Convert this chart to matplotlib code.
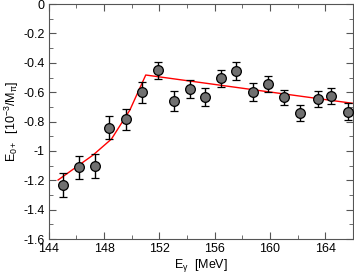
import matplotlib
matplotlib.use("Agg")
import matplotlib.pyplot as plt
from matplotlib.ticker import MultipleLocator

# data points
energy = [145.04, 146.17, 147.37, 148.34, 149.57, 150.77, 151.9, 153.06, 154.2,
          155.28, 156.49, 157.57, 158.8, 159.88, 160.99, 162.2, 163.5, 164.44, 165.62]
e0plus = [-1.232, -1.112, -1.103, -0.842, -0.785, -0.601, -0.449, -0.658, -0.581,
          -0.633, -0.506, -0.458, -0.599, -0.542, -0.635, -0.742, -0.645, -0.624, -0.733]
err = [0.08, 0.079, 0.08, 0.08, 0.07, 0.072, 0.058, 0.068, 0.061,
       0.059, 0.059, 0.061, 0.059, 0.054, 0.052, 0.052, 0.054, 0.054, 0.057]

# theory curve
curve_x = [144.67, 147.2, 148.53, 149.86, 151.01, 166.0]
curve_y = [-1.198, -1.028, -0.919, -0.722, -0.483, -0.676]

xticks = [144, 148, 152, 156, 160, 164]
yticks = [0, -0.2, -0.4, -0.6, -0.8, -1, -1.2, -1.4, -1.6]
ytick_labels = ["0", "-0.2", "-0.4", "-0.6", "-0.8", "-1", "-1.2", "-1.4", "-1.6"]

plt.rcParams['font.family'] = ['Liberation Sans', 'DejaVu Sans']
plt.rcParams['mathtext.fontset'] = 'custom'
plt.rcParams['mathtext.rm'] = 'Liberation Sans'
plt.rcParams['mathtext.it'] = 'Liberation Sans'

fig = plt.figure(figsize=(3.54, 2.73), dpi=100)
ax = fig.add_axes([0.138, 0.1245, 0.859, 0.8605])

ax.plot(curve_x, curve_y, color='red', lw=1.0, zorder=2)
ax.errorbar(energy, e0plus, yerr=err, fmt='o', ms=7, mfc='#707070', mec='black',
            mew=0.9, ecolor='black', elinewidth=1.0, capsize=3, capthick=1.0, zorder=3)

ax.set_xlim(144, 166)
ax.set_ylim(-1.6, 0)
ax.set_xticks(xticks)
ax.set_yticks(yticks)
ax.set_yticklabels(ytick_labels)
ax.xaxis.set_minor_locator(MultipleLocator(2))
ax.yaxis.set_minor_locator(MultipleLocator(0.1))
ax.tick_params(which='both', direction='in', top=True, right=True, labelsize=9,
               color='#555555', pad=3)
ax.tick_params(which='major', length=5)
ax.tick_params(which='minor', length=3)
for s in ax.spines.values():
    s.set_color('#555555')
    s.set_linewidth(0.8)

ax.set_xlabel(r'E$_\gamma$  [MeV]', fontsize=9, labelpad=1)
ax.set_ylabel(r'E$_{0+}$  [10$^{-3}$/M$_\pi$]', fontsize=9, labelpad=2)

fig.savefig('out.png', dpi=100)
